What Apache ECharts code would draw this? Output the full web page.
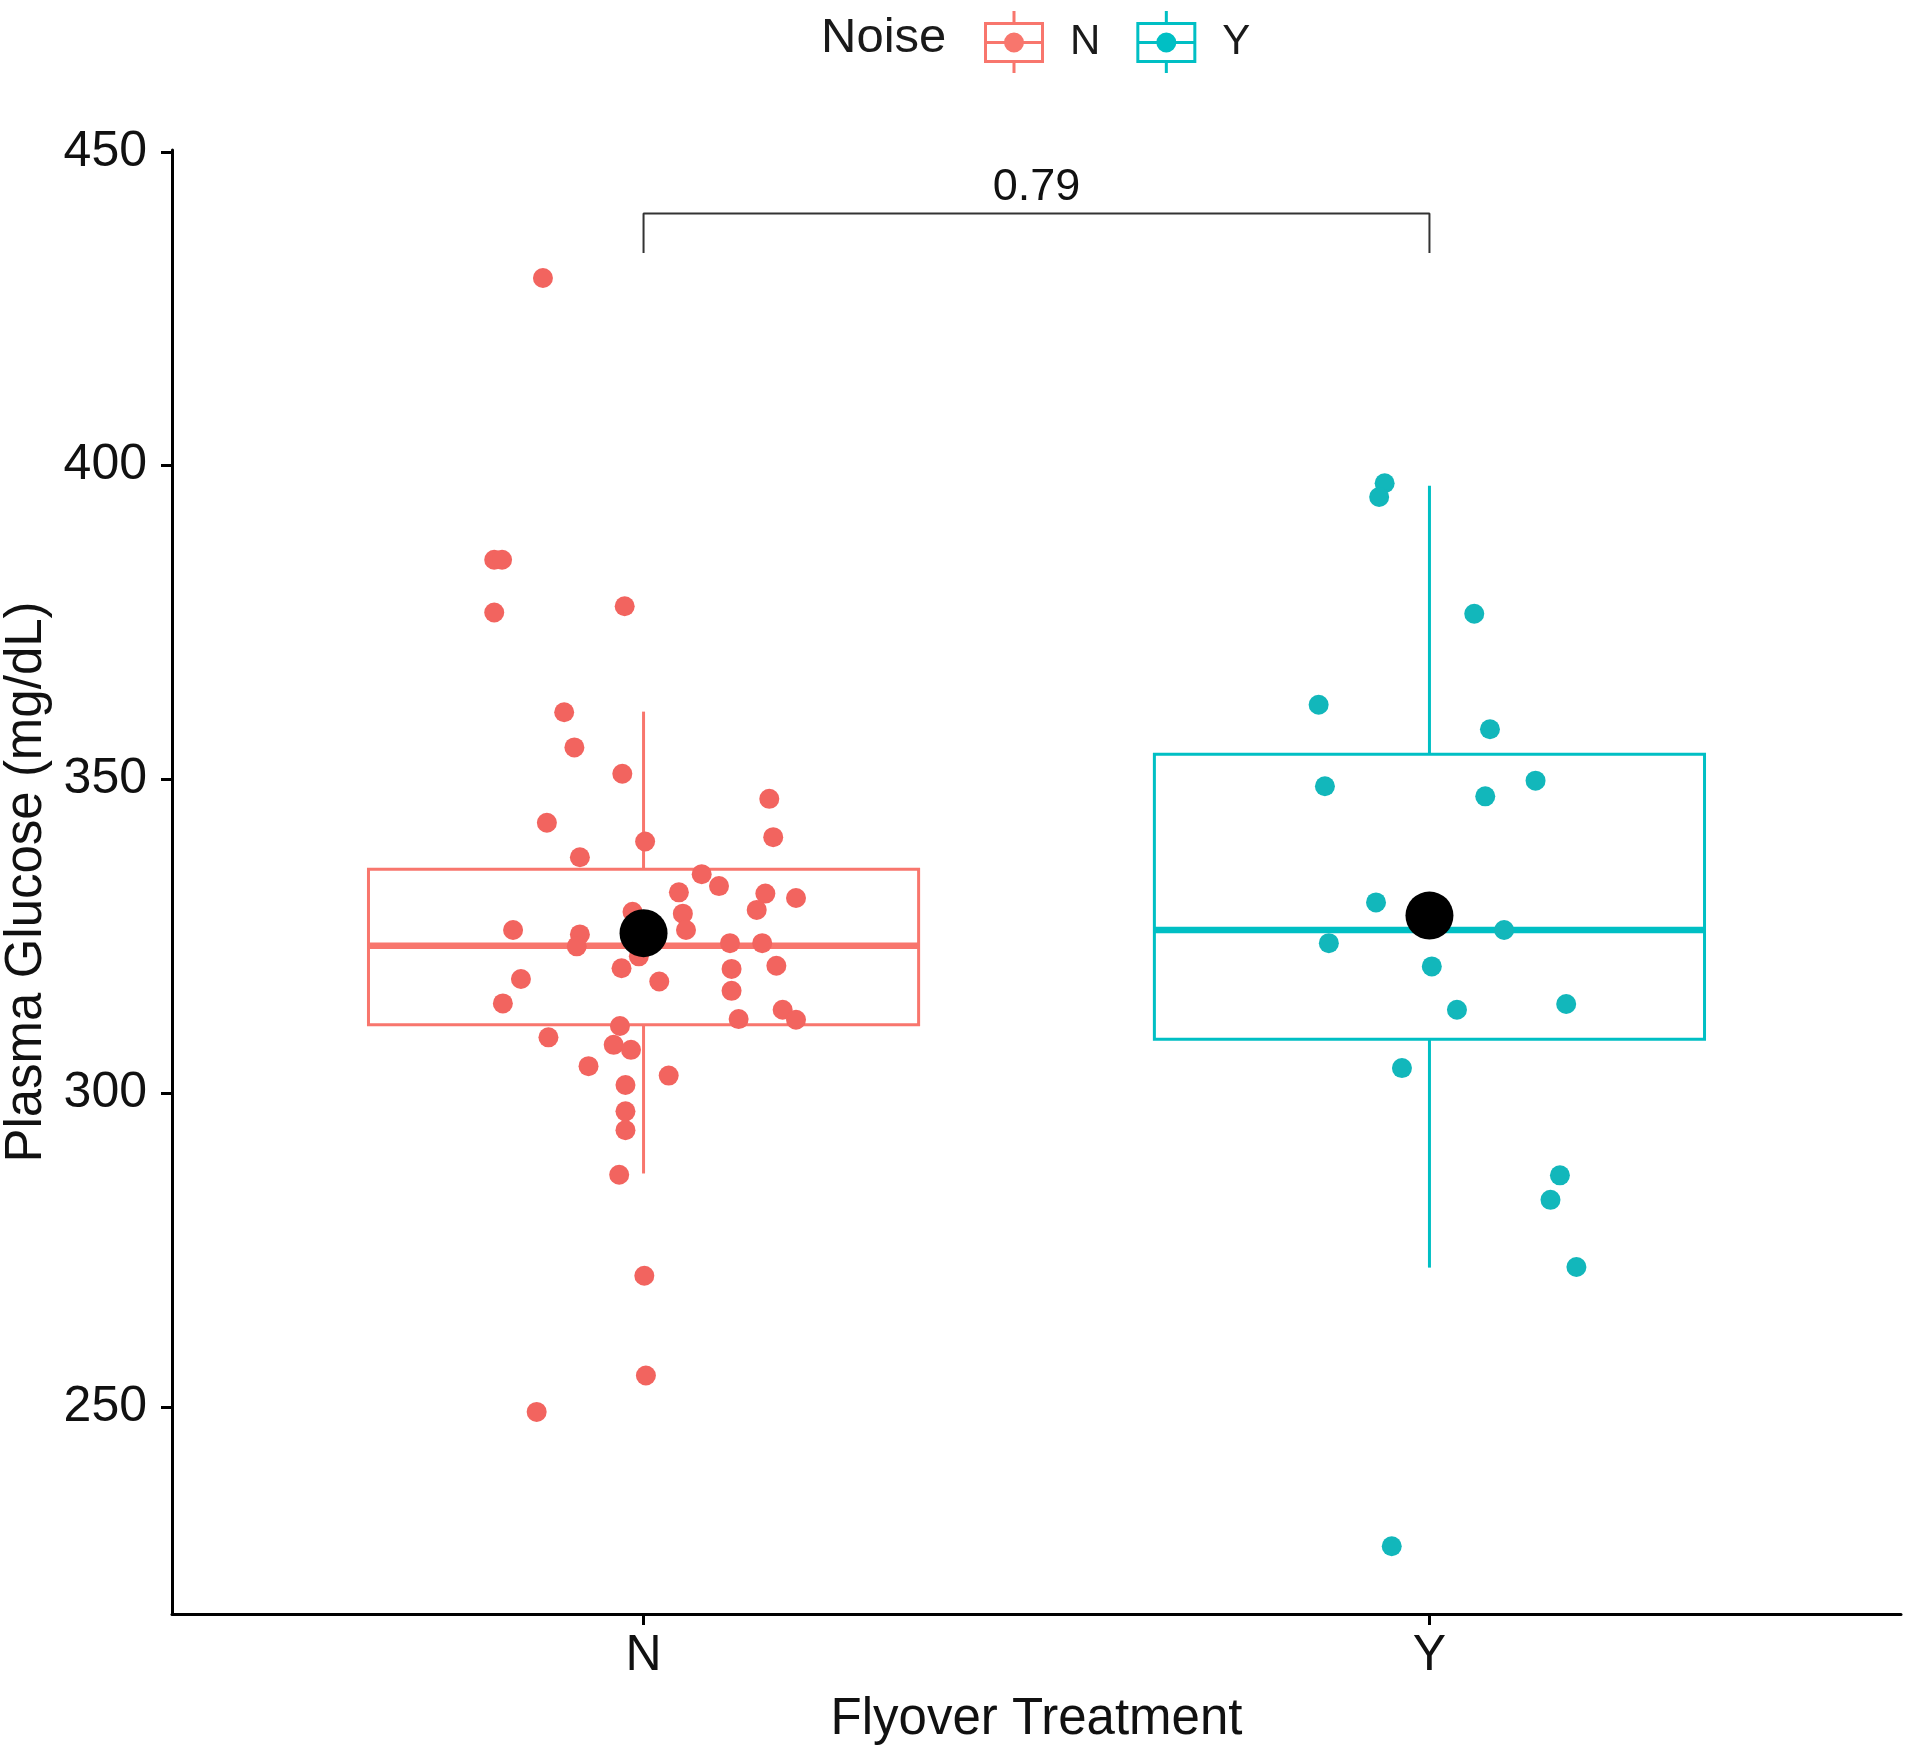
<!DOCTYPE html>
<html>
<head>
<meta charset="utf-8">
<title>Plasma Glucose by Flyover Treatment</title>
<script src="https://cdn.jsdelivr.net/npm/echarts@6/dist/echarts.min.js"></script>
<style>
  html, body { margin: 0; padding: 0; background: #fff; }
  #main { width: 1907px; height: 1749px; }
</style>
</head>
<body>
<div id="main"></div>
<script>
// groups on the x axis (positions 1 and 2)
const groups = ['N', 'Y'];
const groupColors = ['#F8766D', '#00BFC4'];   // box / legend
const pointColors = ['#F2645F', '#12B7BB'];   // jittered dots

// box stats per group: [low whisker, Q1, median, Q3, high whisker]
const boxStats = [
    [287.2, 310.9, 323.5, 335.7, 360.8],
    [272.2, 308.6, 326.0, 354.0, 396.8]
];
const groupMeans = [325.5, 328.3];

// jittered points (x = group position + jitter, y = glucose)
const nX = [0.872, 0.810, 0.820, 0.810, 0.976, 0.899, 0.912, 0.973, 1.160, 0.877,
            1.165, 1.002, 0.919, 1.074, 1.096, 1.045, 1.155, 1.194, 1.144, 0.986,
            1.050, 1.054, 0.834, 0.919, 0.915, 1.110, 1.151, 0.994, 0.972, 1.112,
            1.169, 0.844, 1.020, 1.112, 0.821, 1.177, 1.194, 1.121, 0.970, 0.879,
            0.962, 0.984, 0.930, 1.032, 0.977, 0.977, 0.977, 0.969, 1.001, 1.003,
            0.864];
const nY = [429.9, 385.0, 385.0, 376.6, 377.6, 360.7, 355.1, 350.9, 346.9, 343.1,
            340.8, 340.1, 337.6, 334.9, 333.0, 332.0, 331.8, 331.1, 329.2, 328.9,
            328.6, 326.0, 326.0, 325.3, 323.4, 323.9, 323.9, 321.8, 319.9, 319.8,
            320.3, 318.2, 317.8, 316.3, 314.3, 313.3, 311.7, 311.8, 310.7, 308.9,
            307.7, 306.9, 304.3, 302.8, 301.3, 297.1, 294.1, 287.0, 270.9, 255.0,
            249.2];
const yX = [1.943, 1.936, 2.057, 1.859, 2.077, 1.867, 2.135, 2.071, 1.932, 2.095,
            1.872, 2.003, 2.035, 2.174, 1.965, 2.166, 2.154, 2.187, 1.952];
const yY = [397.2, 395.0, 376.4, 361.9, 358.0, 348.9, 349.8, 347.3, 330.4, 326.0,
            323.9, 320.2, 313.3, 314.2, 304.0, 286.9, 283.0, 272.3, 227.8];

const yTicks = [250, 300, 350, 400, 450];

// comparison bracket between N and Y, with its p value
const bracket = [[1, 433.9], [1, 440.2], [2, 440.2], [2, 433.9]];
const pValue = '0.79';
const pLabelPos = [1.5, 444.3];

const FONT = '"Liberation Sans", Arial, Helvetica, sans-serif';
const boxWidth = 0.7;

// legend icon: box with whiskers, median bar and a dot (filled path)
const legendIcon = 'path://M0 11H60V52H0Z' +
    'M3 14V30H57V14Z' +
    'M3 33V49H57V33Z' +
    'M28.5 0H31.5V11H28.5Z' +
    'M28.5 52H31.5V62H28.5Z' +
    'M20 31.5A10 10 0 1 1 40 31.5A10 10 0 1 1 20 31.5Z';

const Chart = echarts.init(document.getElementById('main'), null, { renderer: 'canvas' });

function renderBox(params, api) {
    const x = api.value(0);
    const lo = api.coord([x, api.value(1)]);
    const q1 = api.coord([x, api.value(2)]);
    const med = api.coord([x, api.value(3)]);
    const q3 = api.coord([x, api.value(4)]);
    const hi = api.coord([x, api.value(5)]);
    const halfW = api.size([boxWidth, 0])[0] / 2;
    const color = groupColors[params.dataIndex];
    return {
        type: 'group',
        children: [
            { type: 'line', shape: { x1: lo[0], y1: lo[1], x2: q1[0], y2: q1[1] },
              style: { stroke: color, lineWidth: 3 } },
            { type: 'line', shape: { x1: q3[0], y1: q3[1], x2: hi[0], y2: hi[1] },
              style: { stroke: color, lineWidth: 3 } },
            { type: 'rect', shape: { x: q3[0] - halfW, y: q3[1], width: halfW * 2, height: q1[1] - q3[1] },
              style: { fill: '#fff', stroke: color, lineWidth: 3 } },
            { type: 'line', shape: { x1: med[0] - halfW, y1: med[1], x2: med[0] + halfW, y2: med[1] },
              style: { stroke: color, lineWidth: 6.5 } }
        ]
    };
}

var option = {
    animation: false,
    backgroundColor: '#fff',
    textStyle: { fontFamily: FONT },
    grid: { left: 172, right: 6, top: 150, bottom: 135, containLabel: false, outerBoundsMode: 'none' },
    graphic: [{
        type: 'text',
        x: 821,
        y: 38,
        style: { text: 'Noise', fontSize: 49, fontFamily: FONT, fill: '#1a1a1a', verticalAlign: 'middle' }
    }],
    legend: {
        left: 979,
        top: 6,
        itemWidth: 60,
        itemHeight: 62,
        itemGap: 36,
        selectedMode: false,
        data: groups.map((g, i) => ({ name: g, icon: legendIcon, itemStyle: { color: groupColors[i] } })),
        textStyle: { fontSize: 42, color: '#1a1a1a', fontFamily: FONT, padding: [0, 0, 0, 21] }
    },
    xAxis: {
        type: 'value',
        min: 0.4,
        max: 2.6,
        name: 'Flyover Treatment',
        nameLocation: 'middle',
        nameGap: 80,
        nameTextStyle: { fontSize: 51, color: '#111', fontFamily: FONT },
        splitLine: { show: false },
        axisLine: { onZero: false, lineStyle: { color: '#000', width: 3 } },
        axisTick: { customValues: [1, 2], length: 11, lineStyle: { color: '#000', width: 3 } },
        axisLabel: {
            customValues: [1, 2],
            formatter: v => groups[Math.round(v) - 1],
            fontSize: 50, color: '#111', margin: 17, fontFamily: FONT
        }
    },
    yAxis: {
        type: 'value',
        min: 217,
        max: 450.3,
        name: 'Plasma Glucose (mg/dL)',
        nameLocation: 'middle',
        nameGap: 119,
        nameTextStyle: { fontSize: 51, color: '#111', fontFamily: FONT },
        splitLine: { show: false },
        axisLine: { show: true, onZero: false, lineStyle: { color: '#000', width: 3 } },
        axisTick: { show: true, customValues: yTicks, length: 11, lineStyle: { color: '#000', width: 3 } },
        axisLabel: { customValues: yTicks, fontSize: 50, color: '#111', margin: 25, fontFamily: FONT }
    },
    series: [{
        type: 'custom',
        name: 'box',
        renderItem: renderBox,
        encode: { x: 0, y: [1, 2, 3, 4, 5] },
        data: boxStats.map((s, i) => [i + 1].concat(s)),
        z: 1
    }, {
        type: 'line',
        name: 'bracket',
        data: bracket,
        symbol: 'none',
        lineStyle: { color: '#333', width: 2 },
        z: 2
    }, {
        type: 'scatter',
        name: groups[0],
        data: nX.map((x, i) => [x, nY[i]]),
        symbolSize: 20,
        itemStyle: { color: pointColors[0], opacity: 1 },
        z: 3
    }, {
        type: 'scatter',
        name: groups[1],
        data: yX.map((x, i) => [x, yY[i]]),
        symbolSize: 20,
        itemStyle: { color: pointColors[1], opacity: 1 },
        z: 3
    }, {
        type: 'scatter',
        name: 'mean',
        data: groupMeans.map((m, i) => [i + 1, m]),
        symbolSize: 48,
        itemStyle: { color: '#000', opacity: 1 },
        z: 4
    }, {
        type: 'scatter',
        name: 'p',
        data: [pLabelPos],
        symbolSize: 1,
        itemStyle: { color: 'rgba(0,0,0,0)', opacity: 1 },
        label: {
            show: true,
            position: 'inside',
            formatter: pValue,
            fontSize: 45,
            color: '#111',
            fontFamily: FONT
        },
        z: 5
    }]
};

Chart.setOption(option, true);
</script>
</body>
</html>
